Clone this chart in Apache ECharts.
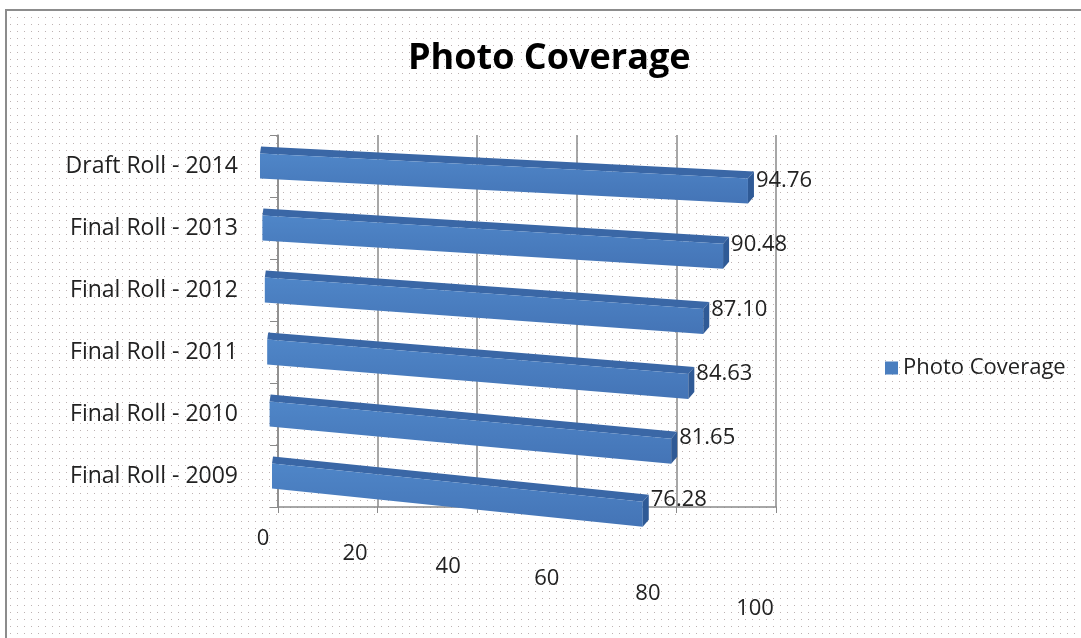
<!DOCTYPE html>
<html>
<head>
<meta charset="utf-8">
<script src="https://cdn.jsdelivr.net/npm/echarts@6/dist/echarts.min.js"></script>
<style>
    html, body { margin: 0; padding: 0; background: #fff; }
    #main { width: 1081px; height: 638px; }
</style>
</head>
<body>
<div id="main"></div>
<script>
var categories = ['Final Roll - 2009', 'Final Roll - 2010', 'Final Roll - 2011', 'Final Roll - 2012', 'Final Roll - 2013', 'Draft Roll - 2014'];
var coverage = [76.28, 81.65, 84.63, 87.10, 90.48, 94.76];
var xTicks = [0, 20, 40, 60, 80, 100];

var FONT = '"Open Sans", Lato, sans-serif';

// dotted fill of the chart area
var tile = document.createElement('canvas');
tile.width = 7;
tile.height = 7;
var tctx = tile.getContext('2d');
tctx.fillStyle = '#bdb2b2';
tctx.fillRect(3, 3, 1, 1);

// tick labels walk down the slanted floor
var tickRich = {};
var padTop = [13, 28, 41, 53, 68, 83];
var padRight = [30, 45, 58, 60, 57, 42];
xTicks.forEach(function (v, i) {
    tickRich['t' + i] = { padding: [padTop[i], padRight[i], 0, 0], fontSize: 22, fontFamily: FONT, color: '#222' };
});

var myChart = echarts.init(document.getElementById('main'));

// fake 3d bar: rows further back are a bit longer, start more left and slope less
function renderBar(params, api) {
    var idx = api.value(1);
    var t = idx / (categories.length - 1);
    var origin = api.coord([0, idx]);
    var end = api.coord([api.value(0), idx]);
    var k = 0.976 + 0.058 * t;
    var x0 = origin[0] - 6 - 12 * t;
    var x1 = x0 + (end[0] - origin[0]) * k;
    var slope = 0.103 - 0.052 * t;
    var h = 25, depth = 7, side = 6;
    var yt0 = origin[1] - h / 2;
    var yt1 = yt0 + (x1 - x0) * slope;

    var front = [[x0, yt0], [x1, yt1], [x1, yt1 + h], [x0, yt0 + h]];
    var top = [[x0 + 1, yt0 - depth], [x1 + side, yt1 - depth], [x1, yt1], [x0, yt0]];
    var cap = [[x1, yt1], [x1 + side, yt1 - depth], [x1 + side, yt1 + h - depth], [x1, yt1 + h]];

    return {
        type: 'group',
        children: [
            {
                type: 'polygon',
                shape: { points: top },
                style: { fill: '#3a67a6' }
            },
            {
                type: 'polygon',
                shape: { points: front },
                style: {
                    fill: new echarts.graphic.LinearGradient(0, 0, 0, 1, [
                        { offset: 0, color: '#4f86c8' },
                        { offset: 1, color: '#4474b6' }
                    ])
                }
            },
            {
                type: 'polygon',
                shape: { points: cap },
                style: { fill: '#2f5a96' }
            },
            {
                type: 'text',
                style: {
                    text: api.value(0).toFixed(2),
                    x: x1 + side + 2,
                    y: yt1 - 2 + 4 * t,
                    verticalAlign: 'middle',
                    fill: '#222',
                    fontSize: 22,
                    fontFamily: FONT
                }
            }
        ]
    };
}

var option = {
    backgroundColor: '#fff',
    graphic: [{
        type: 'rect',
        z: -100,
        silent: true,
        shape: { x: 6, y: 10, width: 1100, height: 660 },
        style: { fill: { image: tile, repeat: 'repeat' }, stroke: '#8c8c8c', lineWidth: 2 }
    }],
    title: {
        text: 'Photo Coverage',
        left: 403,
        top: 36,
        textStyle: { fontSize: 36, fontWeight: 'bold', fontFamily: FONT, color: '#000' }
    },
    legend: {
        data: ['Photo Coverage'],
        left: 880,
        top: 352,
        icon: 'rect',
        itemWidth: 13,
        itemHeight: 13,
        textStyle: { fontSize: 22, fontFamily: FONT, color: '#222' }
    },
    grid: { left: 278, right: 305, top: 135, bottom: 131 },
    xAxis: {
        type: 'value',
        min: 0,
        max: 100,
        interval: 20,
        axisLine: { show: true, lineStyle: { color: '#8a8a8a', width: 1.5 } },
        axisTick: { show: true, length: 6, lineStyle: { color: '#8a8a8a' } },
        splitLine: { show: true, lineStyle: { color: '#8a8a8a', width: 1.5 } },
        axisLabel: {
            margin: 8,
            formatter: function (val, i) {
                return '{t' + i + '|' + val + '}';
            },
            rich: tickRich
        }
    },
    yAxis: {
        type: 'category',
        data: categories,
        offset: 23,
        axisLine: { show: true, lineStyle: { color: '#8a8a8a', width: 1.5 } },
        axisTick: { show: true, length: 8, lineStyle: { color: '#8a8a8a' } },
        axisLabel: { margin: 17, fontSize: 23, fontFamily: FONT, color: '#222' }
    },
    series: [{
        name: 'Photo Coverage',
        type: 'custom',
        renderItem: renderBar,
        clip: false,
        itemStyle: { color: '#4a7ebf' },
        encode: { x: 0, y: 1 },
        data: coverage.map(function (v, i) { return [v, i]; })
    }]
};
myChart.setOption(option);
</script>
</body>
</html>
